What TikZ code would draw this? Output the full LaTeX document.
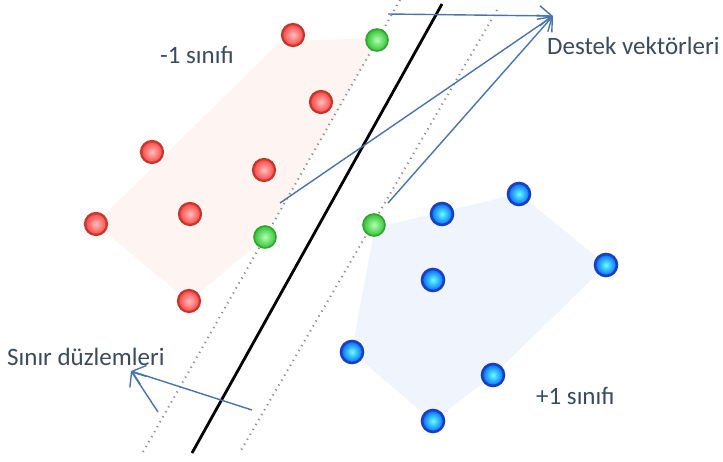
\documentclass[tikz,border=0pt]{standalone}
\usepackage{fontspec}
\setmainfont{Carlito}
\usetikzlibrary{arrows.meta}
\definecolor{txt}{HTML}{3B4B5C}
\definecolor{arr}{HTML}{4A74AC}
\definecolor{redfill}{HTML}{FEF5F3}
\definecolor{bluefill}{HTML}{F0F4FC}
\definecolor{redring}{HTML}{C0392B}
\definecolor{bluering}{HTML}{1A3FC0}
\tikzset{
  redball/.style={circle,minimum size=22pt,inner sep=0pt,draw=redring,line width=2.2pt,inner color=red!25!white,outer color=red!75!white},
  greenball/.style={circle,minimum size=22pt,inner sep=0pt,draw=green!55!black!80,line width=1.6pt,inner color=green!30!white,outer color=green!70!black!80},
  blueball/.style={circle,minimum size=22pt,inner sep=0pt,draw=bluering,line width=2.6pt,inner color=cyan!60!white,outer color=blue!60!cyan},
  lbl/.style={text=txt,font=\fontsize{25}{30}\selectfont,inner sep=0pt},
  pointer/.style={draw=arr,line width=1.4pt,-{Straight Barb[length=12pt,width=20pt,line width=1.4pt]}},
  margin/.style={draw=gray!90,line width=2pt,dash pattern=on 1.2pt off 4.5pt},
}
\begin{document}
\begin{tikzpicture}[x=1pt,y=-1pt]
\useasboundingbox[fill=white] (0,0) rectangle (723,461);
% class regions
\fill[redfill,draw=red!5] (96,224) -- (280,42) -- (380,38) -- (265,237) -- (189,301) -- cycle;
\fill[bluefill,draw=blue!5] (375,228) -- (519,194) -- (606,265) -- (493,375) -- (433,421) -- (352,352) -- cycle;
% hyperplanes
\draw[margin] (400,0) -- (143,452);
\draw[margin] (497,10) -- (240,452);
\draw[black,line width=2.8pt] (442,4) -- (192,453);
% points
\node[redball] (r1) at (293,35) {};
\node[redball] (r2) at (321,102) {};
\node[redball] (r3) at (152,152) {};
\node[redball] (r4) at (264,170) {};
\node[redball] (r5) at (96,224) {};
\node[redball] (r6) at (190,214) {};
\node[redball] (r7) at (189,301) {};
\node[greenball] (g1) at (377,40) {};
\node[greenball] (g2) at (265,237) {};
\node[greenball] (g3) at (374,225) {};
\node[blueball] (b1) at (442,214) {};
\node[blueball] (b2) at (519,194) {};
\node[blueball] (b3) at (606,265) {};
\node[blueball] (b4) at (433,280) {};
\node[blueball] (b5) at (352,352) {};
\node[blueball] (b6) at (493,375) {};
\node[blueball] (b7) at (433,421) {};
% labels
\node[lbl,anchor=west] (lneg) at (160,55) {-1 sınıfı};
\node[lbl,anchor=west] (lpos) at (536,396) {+1 sınıfı};
\node[lbl,anchor=west] (lsv) at (547,46) {Destek vektörleri};
\node[lbl,anchor=west] (lsd) at (7,357) {Sınır düzlemleri};
% pointers
\coordinate (svtip) at (553,16);
\coordinate (s1) at (388,14);
\coordinate (s2) at (280,203);
\coordinate (s3) at (388,203);
\draw[pointer] (s1) -- (svtip);
\draw[pointer] (s2) -- (svtip);
\draw[pointer] (s3) -- (svtip);
\coordinate (sdtip) at (131,371);
\coordinate (d1) at (252,410);
\coordinate (d2) at (158,412);
\draw[pointer] (d1) -- (sdtip);
\draw[pointer] (d2) -- (sdtip);
\end{tikzpicture}
\end{document}
